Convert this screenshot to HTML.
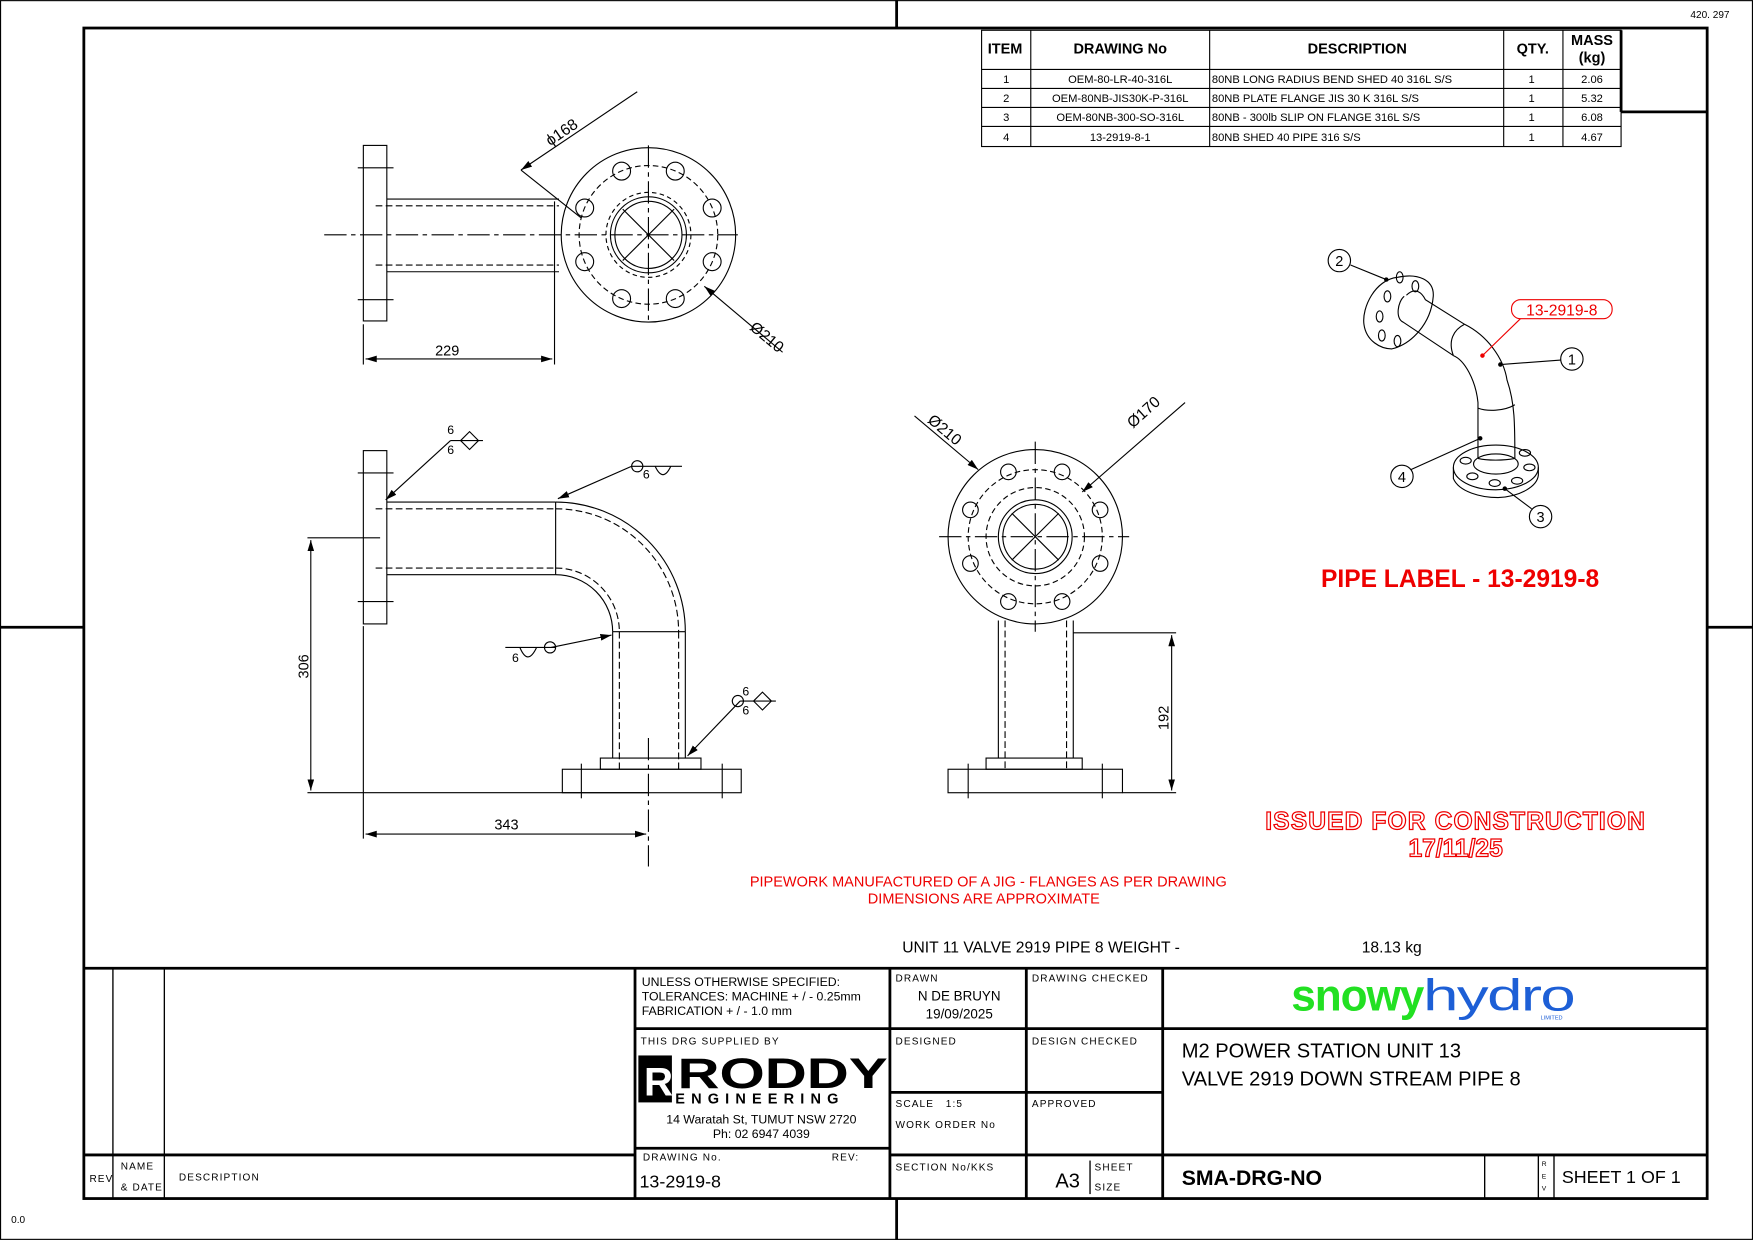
<!DOCTYPE html>
<html><head><meta charset="utf-8"><style>
html,body{margin:0;padding:0;background:#fff}
svg{display:block}
text{font-family:"Liberation Sans",sans-serif}
</style></head><body>
<svg width="1753" height="1240" viewBox="0 0 1568 1109" xmlns="http://www.w3.org/2000/svg">
<defs>
<marker id="ar" markerWidth="10" markerHeight="6" refX="10" refY="3" orient="auto" markerUnits="userSpaceOnUse"><path d="M0,0 L10,3 L0,6 z" fill="#000"/></marker>
<marker id="as" markerWidth="10" markerHeight="6" refX="0" refY="3" orient="auto" markerUnits="userSpaceOnUse"><path d="M10,0 L0,3 L10,6 z" fill="#000"/></marker>
</defs>
<rect x="0" y="0" width="1568" height="1109" fill="#fff"/>
<rect x="0.5" y="0.5" width="1567" height="1108" fill="none" stroke="#000" stroke-width="1"/>
<g stroke="#000" stroke-width="2.5">
<line x1="802" y1="0" x2="802" y2="25"/><line x1="802" y1="1072" x2="802" y2="1109"/>
<line x1="0" y1="561" x2="75" y2="561"/><line x1="1527" y1="561" x2="1568" y2="561"/>
<rect x="75" y="25" width="1452" height="1047" fill="none"/>
</g>
<text x="1512" y="16" font-size="9">420. 297</text>
<text x="10" y="1094" font-size="9">0.0</text>

<g stroke="#000" stroke-width="1" fill="none">
<rect x="878" y="27" width="572" height="104"/>
<line x1="922" y1="27" x2="922" y2="131"/><line x1="1082" y1="27" x2="1082" y2="131"/>
<line x1="1345" y1="27" x2="1345" y2="131"/><line x1="1398" y1="27" x2="1398" y2="131"/>
<line x1="878" y1="62" x2="1450" y2="62"/><line x1="878" y1="79" x2="1450" y2="79"/>
<line x1="878" y1="96" x2="1450" y2="96"/><line x1="878" y1="113" x2="1450" y2="113"/>
</g>
<g stroke="#000" stroke-width="2.5"><line x1="1450" y1="27" x2="1450" y2="100"/><line x1="1450" y1="100" x2="1527" y2="100"/></g>
<g font-size="13" font-weight="bold" text-anchor="middle">
<text x="899" y="48">ITEM</text><text x="1002" y="48">DRAWING No</text><text x="1214" y="48">DESCRIPTION</text><text x="1371" y="48">QTY.</text><text x="1424" y="40">MASS</text><text x="1424" y="56">(kg)</text>
</g>
<g font-size="10" text-anchor="middle">
<text x="900" y="74">1</text><text x="1002" y="74">OEM-80-LR-40-316L</text><text x="1370" y="74">1</text><text x="1424" y="74">2.06</text>
<text x="900" y="91">2</text><text x="1002" y="91">OEM-80NB-JIS30K-P-316L</text><text x="1370" y="91">1</text><text x="1424" y="91">5.32</text>
<text x="900" y="108">3</text><text x="1002" y="108">OEM-80NB-300-SO-316L</text><text x="1370" y="108">1</text><text x="1424" y="108">6.08</text>
<text x="900" y="126">4</text><text x="1002" y="126">13-2919-8-1</text><text x="1370" y="126">1</text><text x="1424" y="126">4.67</text>
</g>
<g font-size="10">
<text x="1084" y="74">80NB LONG RADIUS BEND SHED 40 316L S/S</text>
<text x="1084" y="91">80NB PLATE FLANGE JIS 30 K 316L S/S</text>
<text x="1084" y="108">80NB - 300lb SLIP ON FLANGE 316L S/S</text>
<text x="1084" y="126">80NB SHED 40 PIPE 316 S/S</text>
</g>

<g stroke="#000" stroke-width="1" fill="none">
<rect x="325" y="130" width="21" height="157"/>
<line x1="346" y1="178" x2="500" y2="178"/><line x1="346" y1="243" x2="500" y2="243"/>
<line x1="336" y1="184" x2="500" y2="184" stroke-dasharray="6,3"/><line x1="336" y1="237" x2="500" y2="237" stroke-dasharray="6,3"/>
<line x1="320" y1="150" x2="352" y2="150"/><line x1="320" y1="268" x2="352" y2="268"/>
<line x1="290" y1="210" x2="660" y2="210" stroke-dasharray="20,4,4,4"/>
<line x1="580" y1="130" x2="580" y2="290" stroke-dasharray="20,4,4,4"/>
<circle cx="580" cy="210" r="78"/>
<circle cx="580" cy="210" r="62" stroke-dasharray="5,3"/>
<circle cx="580" cy="210" r="34"/><circle cx="580" cy="210" r="30"/>
<circle cx="580" cy="210" r="38" stroke-dasharray="4,3"/>
<line x1="557" y1="187" x2="603" y2="233"/><line x1="557" y1="233" x2="603" y2="187"/>
<g>
<circle cx="637" cy="186" r="8"/><circle cx="637" cy="234" r="8"/><circle cx="604" cy="267" r="8"/><circle cx="556" cy="267" r="8"/>
<circle cx="523" cy="234" r="8"/><circle cx="523" cy="186" r="8"/><circle cx="556" cy="153" r="8"/><circle cx="604" cy="153" r="8"/>
</g>
<line x1="325" y1="290" x2="325" y2="326"/><line x1="496" y1="180" x2="496" y2="326"/>
<line x1="327" y1="321" x2="494" y2="321" marker-start="url(#as)" marker-end="url(#ar)"/>
<line x1="466" y1="152" x2="570" y2="82" marker-start="url(#as)"/>
<line x1="520" y1="195" x2="466" y2="152"/>
<line x1="630" y1="256" x2="700" y2="315" marker-start="url(#as)"/>
</g>
<text x="400" y="318" font-size="13" text-anchor="middle">229</text>
<text x="505" y="122" font-size="14" transform="rotate(-34 505 122)" text-anchor="middle">ϕ168</text>
<text x="683" y="305" font-size="14" transform="rotate(40 683 305)" text-anchor="middle">Ø210</text>

<g stroke="#000" stroke-width="1" fill="none">
<rect x="325" y="403" width="21" height="155"/>
<line x1="320" y1="423" x2="352" y2="423"/><line x1="320" y1="538" x2="352" y2="538"/>
<line x1="346" y1="449" x2="497" y2="449"/><line x1="346" y1="514" x2="497" y2="514"/>
<line x1="336" y1="455" x2="497" y2="455" stroke-dasharray="6,3"/><line x1="336" y1="508" x2="497" y2="508" stroke-dasharray="6,3"/>
<line x1="497" y1="449" x2="497" y2="514"/>
<path d="M497,449 A116,116 0 0 1 613,565"/><path d="M497,514 A51,51 0 0 1 548,565"/>
<path d="M497,455 A110,110 0 0 1 607,565" stroke-dasharray="6,3"/><path d="M497,508 A57,57 0 0 1 554,565" stroke-dasharray="6,3"/>
<line x1="548" y1="565" x2="613" y2="565"/>
<line x1="548" y1="565" x2="548" y2="678"/><line x1="613" y1="565" x2="613" y2="678"/>
<line x1="554" y1="565" x2="554" y2="688" stroke-dasharray="6,3"/><line x1="607" y1="565" x2="607" y2="688" stroke-dasharray="6,3"/>
<rect x="537" y="678" width="90" height="10"/>
<rect x="503" y="688" width="160" height="21"/>
<line x1="520" y1="683" x2="520" y2="714"/><line x1="646" y1="683" x2="646" y2="714"/>
<line x1="580" y1="660" x2="580" y2="775" stroke-dasharray="20,4,4,4"/>
<line x1="275" y1="481" x2="340" y2="481"/><line x1="275" y1="709" x2="580" y2="709"/>
<line x1="278" y1="483" x2="278" y2="707" marker-start="url(#as)" marker-end="url(#ar)"/>
<line x1="325" y1="560" x2="325" y2="750"/>
<line x1="327" y1="746" x2="578" y2="746" marker-start="url(#as)" marker-end="url(#ar)"/>
<line x1="403" y1="394" x2="345" y2="447" marker-end="url(#ar)"/><line x1="403" y1="394" x2="432" y2="394"/>
<path d="M412,394 L420,386 L428,394 L420,402 z" />
<line x1="565" y1="417" x2="499" y2="446" marker-end="url(#ar)"/><line x1="565" y1="417" x2="610" y2="417"/>
<circle cx="570" cy="417" r="5"/><path d="M586,417 Q593,432 600,417"/>
<line x1="493" y1="579" x2="547" y2="568" marker-end="url(#ar)"/><line x1="452" y1="579" x2="497" y2="579"/>
<circle cx="492" cy="579" r="5"/><path d="M465,579 Q472,596 480,579"/>
<line x1="662" y1="627" x2="615" y2="676" marker-end="url(#ar)"/><line x1="662" y1="627" x2="694" y2="627"/>
<path d="M674,627 L682,619 L690,627 L682,635 z"/><circle cx="660" cy="627" r="5"/>
</g>
<g font-size="11"><text x="400" y="388">6</text><text x="400" y="406">6</text><text x="575" y="428">6</text><text x="458" y="592">6</text><text x="664" y="622">6</text><text x="664" y="639">6</text></g>
<text x="276" y="596" font-size="13" text-anchor="middle" transform="rotate(-90 276 596)">306</text>
<text x="453" y="742" font-size="13" text-anchor="middle">343</text>

<g stroke="#000" stroke-width="1" fill="none">
<circle cx="926" cy="480" r="78"/>
<circle cx="926" cy="480" r="60" stroke-dasharray="5,3"/>
<circle cx="926" cy="480" r="44" stroke-dasharray="5,3"/>
<circle cx="926" cy="480" r="33"/><circle cx="926" cy="480" r="29"/>
<line x1="840" y1="480" x2="1010" y2="480" stroke-dasharray="20,4,4,4"/>
<line x1="926" y1="395" x2="926" y2="565" stroke-dasharray="20,4,4,4"/>
<line x1="905" y1="459" x2="947" y2="501"/><line x1="905" y1="501" x2="947" y2="459"/>
<circle cx="984" cy="456" r="7"/><circle cx="984" cy="504" r="7"/><circle cx="950" cy="538" r="7"/><circle cx="902" cy="538" r="7"/>
<circle cx="868" cy="504" r="7"/><circle cx="868" cy="456" r="7"/><circle cx="902" cy="422" r="7"/><circle cx="950" cy="422" r="7"/>
<line x1="893" y1="555" x2="893" y2="678"/><line x1="960" y1="555" x2="960" y2="678"/>
<line x1="899" y1="555" x2="899" y2="688" stroke-dasharray="6,3"/><line x1="954" y1="555" x2="954" y2="688" stroke-dasharray="6,3"/>
<rect x="882" y="678" width="86" height="10"/>
<rect x="848" y="688" width="156" height="21"/>
<line x1="866" y1="683" x2="866" y2="714"/><line x1="986" y1="683" x2="986" y2="714"/>
<line x1="960" y1="566" x2="1052" y2="566"/><line x1="1004" y1="709" x2="1052" y2="709"/>
<line x1="1048" y1="568" x2="1048" y2="707" marker-start="url(#as)" marker-end="url(#ar)"/>
<line x1="818" y1="372" x2="875" y2="420" marker-end="url(#ar)"/>
<line x1="1060" y1="360" x2="968" y2="440" marker-end="url(#ar)"/>
</g>
<text x="842" y="388" font-size="14" transform="rotate(40 842 388)" text-anchor="middle">Ø210</text>
<text x="1026" y="372" font-size="14" transform="rotate(-42 1026 372)" text-anchor="middle">Ø170</text>
<text x="1045" y="642" font-size="13" text-anchor="middle" transform="rotate(-90 1045 642)">192</text>

<g stroke="#000" stroke-width="1" fill="none">
<path d="M1250,248 C1230,250 1218,275 1220,290 C1222,305 1235,312 1245,312 C1262,308 1280,290 1282,265 C1283,250 1268,244 1250,248 z"/>
<path d="M1256,265 C1250,270 1248,285 1255,288 L1300,318"/>
<path d="M1258,264 C1266,256 1272,262 1275,268 L1310,290"/>
<path d="M1300,318 C1310,322 1320,340 1322,360 L1322,410"/>
<path d="M1310,290 C1330,300 1345,320 1348,340 C1355,360 1355,380 1355,410"/>
<path d="M1300,318 C1295,305 1300,295 1310,290"/>
<path d="M1322,410 C1330,412 1345,412 1355,410"/>
<path d="M1322,365 C1330,368 1345,368 1355,362"/>
<ellipse cx="1338" cy="418" rx="38" ry="20"/>
<path d="M1300,418 L1300,428 C1305,440 1325,445 1340,445 C1360,444 1375,435 1376,425 L1376,418"/>
<ellipse cx="1338" cy="415" rx="20" ry="9"/>
<g><ellipse cx="1241" cy="265" rx="3" ry="5"/><ellipse cx="1252" cy="248" rx="3" ry="5"/><ellipse cx="1266" cy="256" rx="3" ry="5"/><ellipse cx="1234" cy="283" rx="3" ry="5"/><ellipse cx="1236" cy="300" rx="3" ry="5"/><ellipse cx="1250" cy="305" rx="3" ry="5"/>
<ellipse cx="1311" cy="412" rx="5" ry="3"/><ellipse cx="1317" cy="426" rx="5" ry="3"/><ellipse cx="1337" cy="432" rx="5" ry="3"/><ellipse cx="1357" cy="430" rx="5" ry="3"/><ellipse cx="1368" cy="418" rx="5" ry="3"/><ellipse cx="1364" cy="405" rx="5" ry="3"/></g>
<circle cx="1198" cy="233" r="10"/><circle cx="1406" cy="321" r="10"/><circle cx="1378" cy="462" r="10"/><circle cx="1254" cy="426" r="10"/>
<line x1="1208" y1="237" x2="1240" y2="250"/><line x1="1396" y1="322" x2="1342" y2="326"/>
<line x1="1370" y1="455" x2="1346" y2="437"/><line x1="1262" y1="420" x2="1324" y2="392"/>
</g>
<g fill="#000"><circle cx="1240" cy="250" r="2"/><circle cx="1342" cy="326" r="2"/><circle cx="1346" cy="437" r="2"/><circle cx="1324" cy="392" r="2"/></g>
<g font-size="13" text-anchor="middle"><text x="1198" y="238">2</text><text x="1406" y="326">1</text><text x="1378" y="467">3</text><text x="1254" y="431">4</text></g>
<rect x="1352" y="268" width="90" height="17" rx="8" fill="none" stroke="#e00" stroke-width="1"/>
<line x1="1360" y1="285" x2="1326" y2="318" stroke="#e00"/><circle cx="1326" cy="318" r="2" fill="#e00"/>
<text x="1397" y="282" font-size="14" fill="#e00" text-anchor="middle">13-2919-8</text>

<text x="1306" y="525" font-size="22" font-weight="bold" fill="#e00" text-anchor="middle">PIPE LABEL - 13-2919-8</text>
<text x="1302" y="742" font-size="22" font-weight="bold" fill="#fff" stroke="#e00" stroke-width="1.1" text-anchor="middle" letter-spacing="1">ISSUED FOR CONSTRUCTION</text>
<text x="1302" y="766" font-size="22" font-weight="bold" fill="#fff" stroke="#e00" stroke-width="1.1" text-anchor="middle">17/11/25</text>
<text x="884" y="793" font-size="13" fill="#e00" text-anchor="middle">PIPEWORK MANUFACTURED OF A JIG - FLANGES AS PER DRAWING</text>
<text x="880" y="808" font-size="13" fill="#e00" text-anchor="middle">DIMENSIONS ARE APPROXIMATE</text>
<text x="807" y="852" font-size="14">UNIT 11 VALVE 2919 PIPE 8 WEIGHT -</text>
<text x="1218" y="852" font-size="14">18.13 kg</text>

<g stroke="#000" stroke-width="2.5" fill="none">
<line x1="75" y1="866" x2="1527" y2="866"/>
<line x1="568" y1="866" x2="568" y2="1072"/><line x1="796" y1="866" x2="796" y2="1072"/>
<line x1="918" y1="866" x2="918" y2="1072"/><line x1="1040" y1="866" x2="1040" y2="1072"/>
<line x1="568" y1="920" x2="1527" y2="920"/>
<line x1="1040" y1="1033" x2="1527" y2="1033"/>
<line x1="796" y1="977" x2="1040" y2="977"/><line x1="796" y1="1033" x2="1040" y2="1033"/>
<line x1="75" y1="1033" x2="568" y2="1033"/>
<line x1="568" y1="1027" x2="796" y2="1027"/>
</g>
<g stroke="#000" stroke-width="1.2">
<line x1="101" y1="866" x2="101" y2="1072"/><line x1="147" y1="866" x2="147" y2="1072"/>
<line x1="1328" y1="1033" x2="1328" y2="1072"/><line x1="1376" y1="1033" x2="1376" y2="1072"/><line x1="1390" y1="1033" x2="1390" y2="1072"/>
<line x1="975" y1="1038" x2="975" y2="1068"/>
</g>
<g font-size="9" letter-spacing="1">
<text x="80" y="1057">REV</text><text x="108" y="1046">NAME</text><text x="108" y="1065">&amp; DATE</text><text x="160" y="1056">DESCRIPTION</text>
<text x="801" y="878">DRAWN</text><text x="923" y="878">DRAWING CHECKED</text>
<text x="801" y="934">DESIGNED</text><text x="923" y="934">DESIGN CHECKED</text>
<text x="801" y="990">SCALE&#160;&#160;&#160;1:5</text><text x="801" y="1009">WORK ORDER No</text><text x="923" y="990">APPROVED</text>
<text x="801" y="1047">SECTION No/KKS</text><text x="979" y="1047">SHEET</text><text x="979" y="1065">SIZE</text>
<text x="573" y="934">THIS DRG SUPPLIED BY</text>
<text x="575" y="1038">DRAWING No.</text><text x="744" y="1038">REV:</text>
</g>
<g font-size="11"><text x="574" y="882">UNLESS OTHERWISE SPECIFIED:</text><text x="574" y="895">TOLERANCES: MACHINE + / - 0.25mm</text><text x="574" y="908">FABRICATION + / - 1.0 mm</text></g>
<text x="858" y="895" font-size="12" text-anchor="middle">N DE BRUYN</text>
<text x="858" y="911" font-size="12" text-anchor="middle">19/09/2025</text>
<text x="944" y="1062" font-size="18">A3</text>
<text x="572" y="1062" font-size="16">13-2919-8</text>
<text x="1379" y="1043" font-size="6">R</text><text x="1379" y="1054" font-size="6">E</text><text x="1379" y="1065" font-size="6">V</text>
<text x="1397" y="1058" font-size="16">SHEET 1 OF 1</text>
<text x="1057" y="1060" font-size="19" font-weight="bold">SMA-DRG-NO</text>
<text x="1057" y="946" font-size="18">M2 POWER STATION UNIT 13</text>
<text x="1057" y="971" font-size="18">VALVE 2919 DOWN STREAM PIPE 8</text>
<rect x="571" y="944" width="30" height="42" fill="#000"/>
<text x="576" y="980" font-size="36" font-weight="bold" fill="#fff">R</text>
<text x="606" y="973" font-size="38" font-weight="bold" textLength="188" lengthAdjust="spacingAndGlyphs">RODDY</text>
<text x="604" y="987" font-size="13" font-weight="bold" letter-spacing="5.5">ENGINEERING</text>
<text x="681" y="1005" font-size="11" text-anchor="middle">14 Waratah St, TUMUT NSW 2720</text>
<text x="681" y="1018" font-size="11" text-anchor="middle">Ph: 02 6947 4039</text>
<text x="1155" y="904" font-size="40" font-weight="bold" fill="#22e022" letter-spacing="-1" textLength="118" lengthAdjust="spacingAndGlyphs">snowy</text>
<text x="1273" y="904" font-size="40" fill="#1d5fd6" letter-spacing="-1" textLength="135" lengthAdjust="spacingAndGlyphs">hydro</text>
<text x="1378" y="912" font-size="5" fill="#1d5fd6">LIMITED</text>
</svg>
</body></html>
